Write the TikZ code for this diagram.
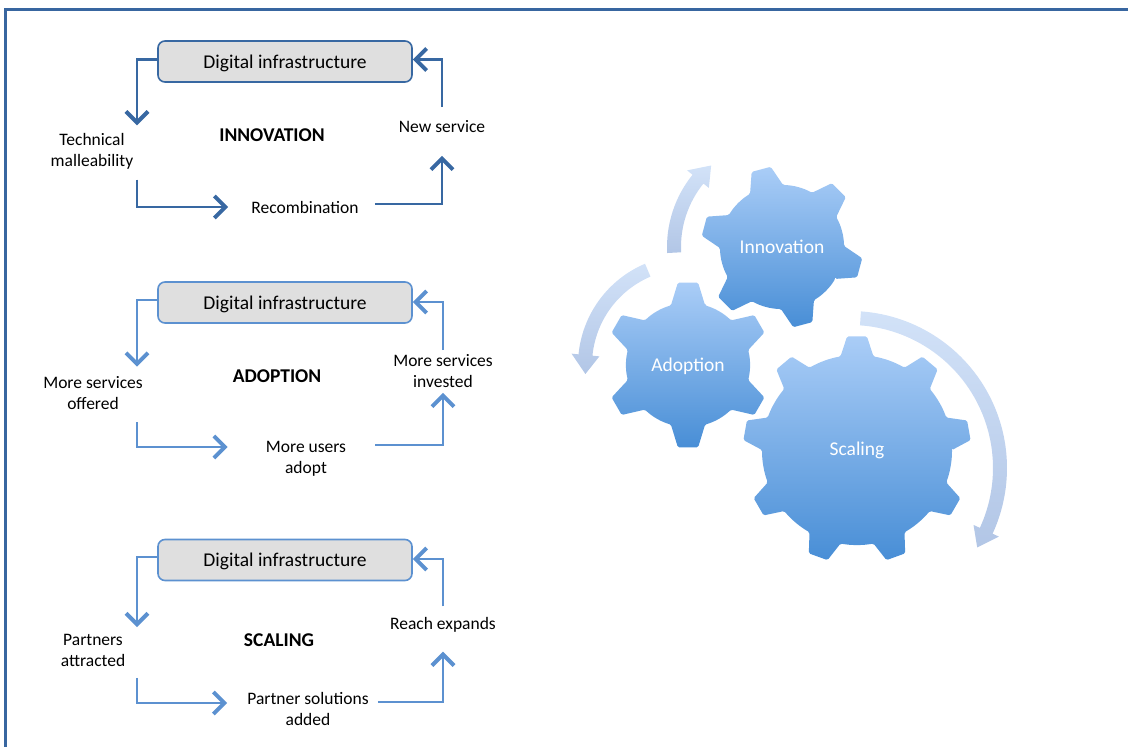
\documentclass[tikz,border=0pt]{standalone}
\usepackage{fontspec}
\setmainfont{Carlito}
\usetikzlibrary{arrows.meta}
\usepackage{xcolor}
\definecolor{darkline}{RGB}{56,104,162}
\definecolor{lightline}{RGB}{92,145,208}
\definecolor{framecol}{RGB}{56,102,160}
\definecolor{geartop}{RGB}{170,205,247}
\definecolor{gearbot}{RGB}{72,142,214}
\definecolor{arrowtop}{RGB}{210,226,248}
\definecolor{arrowbot}{RGB}{178,198,230}

% gear: centre, teeth, inner r, outer r, offset, base half-angle, tip half-angle
\newcommand{\gearshape}[7]{%
  \pgfmathtruncatemacro\lastk{#2-1}%
  \begin{scope}[shift={(#1)}]
    \shade[top color=geartop, bottom color=gearbot, rounded corners=1.5pt]
      ({#5-#6}:#3) \foreach \k in {0,...,\lastk} {
        -- ({#5+\k*360/#2-#7}:#4) -- ({#5+\k*360/#2+#7}:#4)
        -- ({#5+\k*360/#2+#6}:#3)
        arc[start angle={#5+\k*360/#2+#6}, end angle={#5+(\k+1)*360/#2-#6}, radius=#3]
      } -- cycle;
  \end{scope}}

% bent arrow: centre, radius, start angle, tip angle, turn (1 or -1)
\newcommand{\bentarrow}[5]{%
  \pgfmathsetmacro\headang{#4-#5*19/#2*57.3}%
  \begin{scope}[shift={(#1)}]
    \shade[top color=arrowtop, bottom color=arrowbot]
      ({#3}:{#2+7}) arc[start angle=#3, end angle=\headang, radius={#2+7}]
      -- (\headang:{#2+14}) -- ({#4}:{#2}) -- (\headang:{#2-14})
      -- (\headang:{#2-7}) arc[start angle=\headang, end angle=#3, radius={#2-7}]
      -- cycle;
  \end{scope}}

\begin{document}
\begin{tikzpicture}[x=1pt, y=1pt,
    infra/.style={draw, rounded corners=7pt, fill=gray!25, line width=1.6pt,
      minimum width=254pt, minimum height=41pt, text height=17pt, text depth=4pt,
      font=\fontsize{19.5}{22}\selectfont},
    lbl/.style={align=center, inner sep=2pt, font=\fontsize{17.5}{21}\selectfont},
    looptitle/.style={font=\fontsize{19.5}{22}\selectfont\bfseries},
    flow/.style={line width=2pt, -{Straight Barb[length=11pt,width=22pt,line width=4pt]}},
    gearlbl/.style={text=white, font=\fontsize{19.5}{22}\selectfont}]
  \useasboundingbox (0,0) rectangle (1128,-747);
  \draw[framecol, line width=2.5pt] (5.5,-760) -- (5.5,-9.5) -- (1140,-9.5);

  % innovation loop
  \node[infra, draw=darkline] (infraA) at (285,-61.5) {Digital infrastructure};
  \node[lbl] (techA) at (92,-151.5) {Technical\\malleability};
  \node[lbl] (recombA) at (305,-207) {Recombination};
  \node[lbl] (newA) at (442,-126.5) {New service};
  \node[looptitle] (titleA) at (272,-135) {INNOVATION};

  \draw[flow, darkline, line width=2.3pt, shorten >=6pt] ([yshift=2pt]infraA.west) -| ([xshift=45pt]techA.north);
  \draw[flow, darkline, line width=2.3pt, shorten <=8pt, shorten >=21pt] ([xshift=45pt]techA.south) |- (recombA.west);
  \draw[flow, darkline, line width=2.3pt, shorten <=14pt, shorten >=21pt] ([yshift=3pt]recombA.east) -| (newA.south);
  \draw[flow, darkline, line width=2.3pt, shorten <=11pt] (newA.north) |- ([yshift=2pt]infraA.east);

  % adoption loop
  \node[infra, draw=lightline] (infraB) at (285,-302.5) {Digital infrastructure};
  \node[lbl] (offerB) at (93,-393.5) {More services\\offered};
  \node[lbl] (usersB) at (306,-458.5) {More users\\adopt};
  \node[lbl] (investB) at (443,-371) {More services\\invested};
  \node[looptitle] (titleB) at (277,-376) {ADOPTION};

  \draw[flow, lightline, shorten >=8pt] ([yshift=2.5pt]infraB.west) -| ([xshift=44pt]offerB.north);
  \draw[flow, lightline, shorten <=10pt, shorten >=36pt] ([xshift=44pt]offerB.south) |- ([yshift=11.5pt]usersB.west);
  \draw[flow, lightline, shorten <=27pt, shorten >=3pt] ([yshift=13.5pt]usersB.east) -| (investB.south);
  \draw[flow, lightline, shorten <=2pt] (investB.north) |- ([yshift=0.5pt]infraB.east);

  % scaling loop
  \node[infra, draw=lightline] (infraC) at (285,-560) {Digital infrastructure};
  \node[lbl] (partC) at (93,-650.5) {Partners\\attracted};
  \node[lbl] (solC) at (308,-708.5) {Partner solutions\\added};
  \node[lbl] (reachC) at (443,-625) {Reach expands};
  \node[looptitle] (titleC) at (279,-640) {SCALING};

  \draw[flow, lightline, shorten >=5pt] ([yshift=3pt]infraC.west) -| ([xshift=44pt]partC.north);
  \draw[flow, lightline, shorten <=9pt, shorten >=18pt] ([xshift=44pt]partC.south) |- ([yshift=5.5pt]solC.west);
  \draw[flow, lightline, shorten <=7pt, shorten >=17pt] ([yshift=6.5pt]solC.east) -| (reachC.south);
  \draw[flow, lightline, shorten <=9pt] (reachC.north) |- ([yshift=1pt]infraC.east);

  % gears
  \bentarrow{782,-247}{108}{183}{131}{-1}
  \bentarrow{688,-365}{103}{113}{185}{1}
  \bentarrow{850,-468}{150}{86}{-32}{-1}
  \gearshape{857,-450}{9}{95}{114}{10}{10}{5}
  \gearshape{688,-365}{6}{62}{83}{90}{16}{7}
  \gearshape{782,-247}{6}{62}{81}{-15}{16}{7}
  \node[gearlbl] (innovG) at (782,-247) {Innovation};
  \node[gearlbl] (adoptG) at (688,-366) {Adoption};
  \node[gearlbl] (scaleG) at (857,-450) {Scaling};
\end{tikzpicture}
\end{document}
